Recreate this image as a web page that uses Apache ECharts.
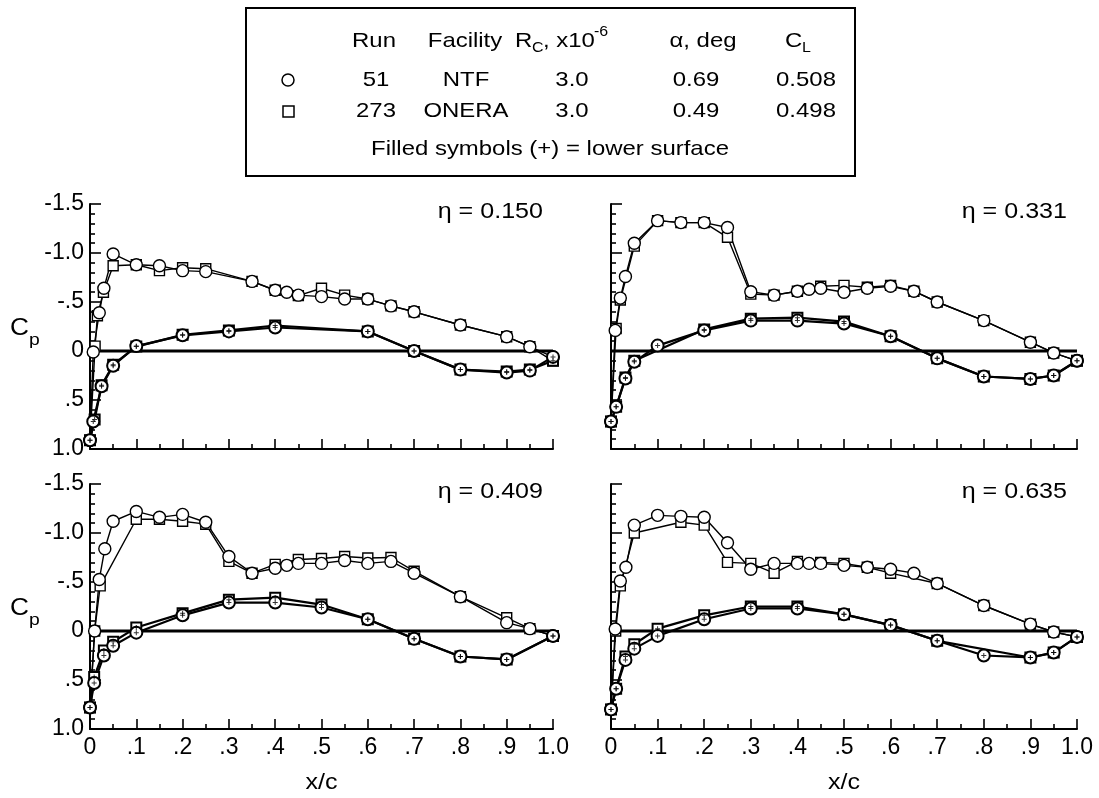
<!DOCTYPE html>
<html>
<head>
<meta charset="utf-8">
<title>Cp distributions</title>
<script src="https://cdn.jsdelivr.net/npm/echarts@6/dist/echarts.min.js"></script>
<style>
  html, body { margin: 0; padding: 0; background: #fff; }
  #chart { width: 1099px; height: 798px; }
</style>
</head>
<body>
<div id="chart"></div>
<script>
// Axis ticks and their labels
const xTicks = [0, 0.1, 0.2, 0.3, 0.4, 0.5, 0.6, 0.7, 0.8, 0.9, 1.0];
const xTickLabels = ['0', '.1', '.2', '.3', '.4', '.5', '.6', '.7', '.8', '.9', '1.0'];
const yTicks = [-1.5, -1.0, -0.5, 0, 0.5, 1.0];
const yTickLabels = ['-1.5', '-1.0', '-.5', '0', '.5', '1.0'];

// Spanwise stations
const etaLabels = ['η = 0.150', 'η = 0.331', 'η = 0.409', 'η = 0.635'];

// eta = 0.150 : [x/c, Cp]
const upNTF150 = [[0, 0.91], [0.007, 0.01], [0.02, -0.39], [0.03, -0.64], [0.05, -0.99], [0.1, -0.88], [0.15, -0.87], [0.2, -0.82], [0.25, -0.81], [0.35, -0.71], [0.4, -0.62], [0.425, -0.60], [0.45, -0.57], [0.5, -0.555], [0.55, -0.53], [0.6, -0.53], [0.65, -0.46], [0.7, -0.40], [0.8, -0.265], [0.9, -0.146], [0.95, -0.044], [1.0, 0.06]];
const upONERA150 = [[0, 0.91], [0.011, -0.05], [0.016, -0.36], [0.029, -0.60], [0.05, -0.87], [0.1, -0.88], [0.15, -0.82], [0.2, -0.85], [0.25, -0.84], [0.35, -0.71], [0.4, -0.62], [0.45, -0.565], [0.5, -0.64], [0.55, -0.57], [0.6, -0.53], [0.65, -0.46], [0.7, -0.40], [0.8, -0.265], [0.9, -0.146], [0.95, -0.044], [1.0, 0.1]];
const loNTF150 = [[0, 0.91], [0.007, 0.72], [0.025, 0.36], [0.05, 0.15], [0.1, -0.05], [0.2, -0.16], [0.3, -0.20], [0.4, -0.24], [0.6, -0.20], [0.7, 0.0], [0.8, 0.19], [0.9, 0.22], [0.95, 0.20], [1.0, 0.06]];
const loONERA150 = [[0, 0.91], [0.01, 0.70], [0.025, 0.35], [0.05, 0.14], [0.1, -0.045], [0.2, -0.165], [0.3, -0.21], [0.4, -0.26], [0.6, -0.20], [0.7, 0.0], [0.8, 0.19], [0.9, 0.21], [0.95, 0.19], [1.0, 0.1]];

// eta = 0.331
const upNTF331 = [[0, 0.72], [0.009, -0.21], [0.02, -0.54], [0.031, -0.76], [0.05, -1.10], [0.1, -1.33], [0.15, -1.31], [0.2, -1.31], [0.25, -1.26], [0.3, -0.605], [0.35, -0.57], [0.4, -0.61], [0.425, -0.63], [0.45, -0.64], [0.5, -0.60], [0.55, -0.64], [0.6, -0.66], [0.65, -0.61], [0.7, -0.50], [0.8, -0.31], [0.9, -0.09], [0.95, 0.02], [1.0, 0.10]];
const upONERA331 = [[0, 0.72], [0.011, -0.23], [0.02, -0.52], [0.05, -1.07], [0.1, -1.33], [0.15, -1.31], [0.2, -1.31], [0.25, -1.16], [0.3, -0.58], [0.35, -0.57], [0.4, -0.61], [0.45, -0.66], [0.5, -0.67], [0.55, -0.65], [0.6, -0.67], [0.65, -0.61], [0.7, -0.50], [0.8, -0.31], [0.9, -0.09], [0.95, 0.02], [1.0, 0.10]];
const loNTF331 = [[0, 0.72], [0.011, 0.57], [0.031, 0.28], [0.05, 0.11], [0.1, -0.055], [0.2, -0.21], [0.3, -0.31], [0.4, -0.31], [0.5, -0.28], [0.6, -0.15], [0.7, 0.075], [0.8, 0.26], [0.9, 0.285], [0.95, 0.25], [1.0, 0.10]];
const loONERA331 = [[0, 0.72], [0.011, 0.57], [0.031, 0.27], [0.05, 0.10], [0.2, -0.22], [0.3, -0.33], [0.4, -0.34], [0.5, -0.30], [0.6, -0.15], [0.7, 0.075], [0.8, 0.26], [0.9, 0.285], [0.95, 0.25], [1.0, 0.10]];

// eta = 0.409
const upNTF409 = [[0, 0.78], [0.01, 0.0], [0.02, -0.525], [0.032, -0.84], [0.05, -1.12], [0.1, -1.22], [0.15, -1.16], [0.2, -1.19], [0.25, -1.11], [0.3, -0.76], [0.35, -0.59], [0.4, -0.64], [0.425, -0.67], [0.45, -0.69], [0.5, -0.69], [0.55, -0.72], [0.6, -0.69], [0.65, -0.71], [0.7, -0.59], [0.8, -0.35], [0.9, -0.085], [0.95, -0.024], [1.0, 0.05]];
const upONERA409 = [[0, 0.78], [0.01, 0.0], [0.022, -0.46], [0.1, -1.14], [0.15, -1.14], [0.2, -1.12], [0.25, -1.09], [0.3, -0.71], [0.35, -0.59], [0.4, -0.68], [0.45, -0.73], [0.5, -0.74], [0.55, -0.76], [0.6, -0.745], [0.65, -0.75], [0.7, -0.61], [0.8, -0.35], [0.9, -0.135], [0.95, -0.024], [1.0, 0.05]];
const loNTF409 = [[0, 0.78], [0.009, 0.53], [0.03, 0.25], [0.05, 0.15], [0.1, 0.017], [0.2, -0.16], [0.3, -0.29], [0.4, -0.29], [0.5, -0.24], [0.6, -0.12], [0.7, 0.08], [0.8, 0.26], [0.9, 0.29], [1.0, 0.05]];
const loONERA409 = [[0, 0.78], [0.009, 0.47], [0.03, 0.20], [0.05, 0.11], [0.1, -0.035], [0.2, -0.18], [0.3, -0.32], [0.4, -0.34], [0.5, -0.27], [0.6, -0.12], [0.7, 0.08], [0.8, 0.26], [0.9, 0.29], [1.0, 0.05]];

// eta = 0.635
const upNTF635 = [[0, 0.80], [0.009, -0.02], [0.02, -0.51], [0.032, -0.65], [0.05, -1.08], [0.1, -1.18], [0.15, -1.17], [0.2, -1.16], [0.25, -0.90], [0.3, -0.63], [0.35, -0.69], [0.4, -0.69], [0.425, -0.69], [0.45, -0.69], [0.5, -0.67], [0.55, -0.65], [0.6, -0.63], [0.65, -0.59], [0.7, -0.485], [0.8, -0.26], [0.9, -0.07], [0.95, 0.01], [1.0, 0.06]];
const upONERA635 = [[0, 0.80], [0.01, 0.0], [0.02, -0.46], [0.05, -1.0], [0.15, -1.11], [0.2, -1.08], [0.25, -0.70], [0.3, -0.69], [0.35, -0.59], [0.4, -0.71], [0.45, -0.70], [0.5, -0.69], [0.55, -0.65], [0.6, -0.59], [0.7, -0.485], [0.8, -0.26], [0.9, -0.07], [0.95, 0.01], [1.0, 0.06]];
const loNTF635 = [[0, 0.80], [0.011, 0.59], [0.031, 0.295], [0.05, 0.18], [0.1, 0.05], [0.2, -0.12], [0.3, -0.23], [0.4, -0.23], [0.5, -0.17], [0.6, -0.06], [0.7, 0.10], [0.8, 0.25], [0.9, 0.27], [0.95, 0.22], [1.0, 0.06]];
const loONERA635 = [[0, 0.80], [0.011, 0.59], [0.031, 0.26], [0.05, 0.135], [0.1, -0.024], [0.2, -0.16], [0.3, -0.25], [0.4, -0.25], [0.5, -0.17], [0.6, -0.06], [0.7, 0.10], [0.9, 0.27], [0.95, 0.22], [1.0, 0.06]];

// Legend table text
const legendHeader = ['Run', 'Facility', 'α, deg'];
const runs = ['51', '273'];
const facilities = ['NTF', 'ONERA'];
const reynolds = ['3.0', '3.0'];
const alphas = ['0.69', '0.49'];
const liftCoefs = ['0.508', '0.498'];
const legendNote = 'Filled symbols (+) = lower surface';

const panelData = [
  [upNTF150, upONERA150, loNTF150, loONERA150],
  [upNTF331, upONERA331, loNTF331, loONERA331],
  [upNTF409, upONERA409, loNTF409, loONERA409],
  [upNTF635, upONERA635, loNTF635, loONERA635]
];

const FONT = '"Liberation Sans", Arial, Helvetica, sans-serif';
const INK = '#000';
const SX = 1.14; // horizontal stretch of the lettering

const grids = [
  { left: 90, top: 204, width: 463, height: 245 },
  { left: 611, top: 204, width: 466, height: 245 },
  { left: 90, top: 484, width: 463, height: 245 },
  { left: 611, top: 484, width: 466, height: 245 }
];

const xAxes = grids.map((g, i) => ({
  type: 'value', gridIndex: i, min: 0, max: 1, interval: 0.1,
  axisLine: { show: true, onZero: false, lineStyle: { color: INK, width: 2 } },
  axisTick: { show: true, inside: true, length: 10, lineStyle: { color: INK, width: 1.6 } },
  minorTick: { show: true, splitNumber: 2, length: 5, lineStyle: { color: INK, width: 1.6 } },
  splitLine: { show: false }, minorSplitLine: { show: false },
  axisLabel: {
    show: i >= 2, color: INK, fontFamily: FONT, fontSize: 23, margin: 7,
    formatter: v => xTickLabels[Math.round(v * 10)]
  }
}));

const yAxes = grids.map((g, i) => ({
  type: 'value', gridIndex: i, min: -1.5, max: 1.0, interval: 0.5, inverse: true,
  axisLine: { show: true, onZero: false, lineStyle: { color: INK, width: 2 } },
  axisTick: { show: true, inside: true, length: 11, lineStyle: { color: INK, width: 1.6 } },
  minorTick: { show: true, splitNumber: 5, length: 5, lineStyle: { color: INK, width: 1.6 } },
  splitLine: { show: false }, minorSplitLine: { show: false },
  axisLabel: {
    show: i % 2 === 0, color: INK, fontFamily: FONT, fontSize: 23, margin: 6,
    formatter: v => yTickLabels[Math.round((v - yTicks[0]) / 0.5)]
  }
}));

const PLUS = 'path://M4,0H6V10H4ZM0,4H10V6H0Z';

function curve(i, data, symbol, size, lw, bw) {
  return {
    type: 'line', xAxisIndex: i, yAxisIndex: i, data: data,
    symbol: symbol, symbolSize: size, showSymbol: true, showAllSymbol: true,
    lineStyle: { color: INK, width: lw },
    itemStyle: { color: '#fff', borderColor: INK, borderWidth: bw },
    z: 3, animation: false, silent: true
  };
}

const series = [];
panelData.forEach((p, i) => {
  const [upN, upO, loN, loO] = p;
  // chordwise reference line Cp = 0
  series.push({
    type: 'line', xAxisIndex: i, yAxisIndex: i, data: [[0, 0], [1, 0]],
    symbol: 'none', lineStyle: { color: INK, width: 2.8 }, z: 2, animation: false, silent: true
  });
  series.push(curve(i, upO, 'rect', 10, 1.4, 1.4));
  series.push(curve(i, upN, 'circle', 12, 1.4, 1.4));
  series.push(curve(i, loO, 'rect', 10, 2.2, 2));
  series.push(curve(i, loN, 'circle', 12, 2.2, 2));
  series.push({
    type: 'scatter', xAxisIndex: i, yAxisIndex: i, data: loO.concat(loN),
    symbol: PLUS, symbolSize: 5, itemStyle: { color: INK }, z: 5, animation: false, silent: true
  });
});

function txt(x, y, text, size, align, extra) {
  return Object.assign({
    type: 'text', x: x, y: y, scaleX: SX, silent: true, z: 10,
    style: { text: text, fill: INK, font: size + 'px ' + FONT, textAlign: align || 'left', textVerticalAlign: 'middle' }
  }, extra || {});
}

const graphics = [];
// η labels
grids.forEach((g, i) => {
  graphics.push(txt(g.left + g.width - 10, g.top + 8, etaLabels[i], 22, 'right'));
});
// Cp labels on the left panels
[grids[0], grids[2]].forEach(g => {
  const yz = g.top + 147;
  graphics.push(txt(10, yz - 22, 'C', 23, 'left'));
  graphics.push(txt(29, yz - 11, 'p', 17, 'left'));
});
// x/c labels on the bottom panels
[grids[2], grids[3]].forEach(g => {
  graphics.push(txt(g.left + g.width / 2, 783, 'x/c', 22, 'center'));
});

// legend box
graphics.push({ type: 'rect', shape: { x: 246, y: 8, width: 609, height: 168 }, style: { fill: '#fff', stroke: INK, lineWidth: 2 }, z: 9, silent: true });
const hy = 41, r1 = 80, r2 = 111, r3 = 149;
graphics.push(txt(374, hy, legendHeader[0], 21, 'center'));
graphics.push(txt(465, hy, legendHeader[1], 21, 'center'));
graphics.push(txt(515, hy, 'R', 21, 'left'));
graphics.push(txt(532, hy + 7, 'C', 14, 'left'));
graphics.push(txt(543, hy, ', x10', 21, 'left'));
graphics.push(txt(594, hy - 9, '-6', 14, 'left'));
graphics.push(txt(703, hy, legendHeader[2], 21, 'center'));
graphics.push(txt(785, hy, 'C', 21, 'left'));
graphics.push(txt(802, hy + 7, 'L', 14, 'left'));
[r1, r2].forEach((ry, k) => {
  graphics.push(txt(376, ry, runs[k], 21, 'center'));
  graphics.push(txt(466, ry, facilities[k], 21, 'center'));
  graphics.push(txt(572, ry, reynolds[k], 21, 'center'));
  graphics.push(txt(696, ry, alphas[k], 21, 'center'));
  graphics.push(txt(806, ry, liftCoefs[k], 21, 'center'));
});
graphics.push({ type: 'circle', shape: { cx: 288, cy: r1, r: 6 }, style: { fill: '#fff', stroke: INK, lineWidth: 1.5 }, z: 10, silent: true });
graphics.push({ type: 'rect', shape: { x: 283, y: r2 - 5, width: 11, height: 11 }, style: { fill: '#fff', stroke: INK, lineWidth: 1.5 }, z: 10, silent: true });
graphics.push(txt(550, r3, legendNote, 21, 'center'));

const chart = echarts.init(document.getElementById('chart'), null, { renderer: 'canvas' });
chart.setOption({
  animation: false,
  backgroundColor: '#fff',
  grid: grids,
  xAxis: xAxes,
  yAxis: yAxes,
  series: series,
  graphic: { elements: graphics }
});
</script>
</body>
</html>
